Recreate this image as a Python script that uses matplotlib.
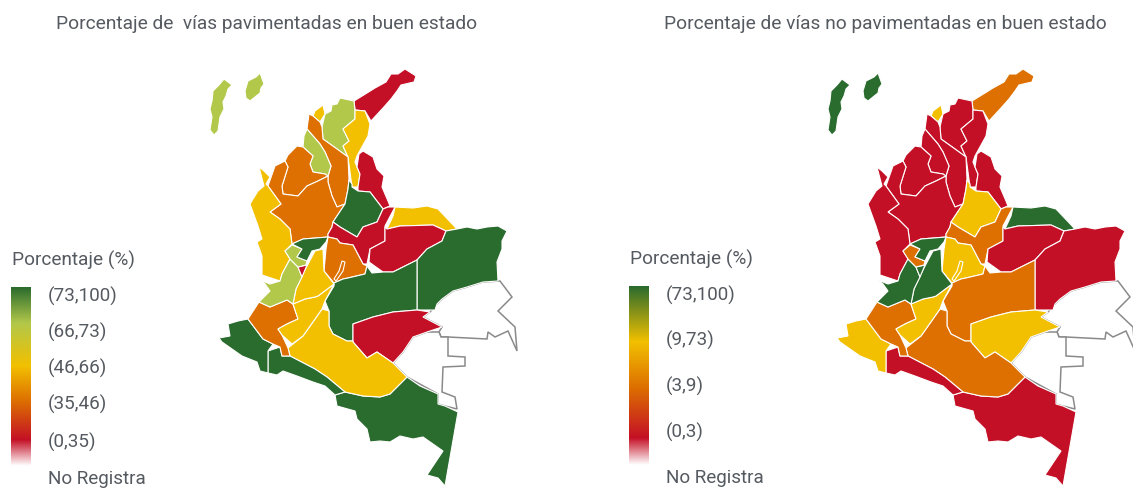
#!/usr/bin/env python3
import numpy as np
import matplotlib
matplotlib.use("Agg")
import matplotlib.pyplot as plt
from matplotlib.colors import LinearSegmentedColormap

plt.rcParams['font.family'] = ['Roboto', 'DejaVu Sans']

# department outlines in image pixels
san_andres = [(224,80),(232,86),(228,90),(226,97),(223,103),(224,110),(220,118),(218,132),(214,136),(210,131),(212,118),(210,110),(212,102),(213,92),(219,86)]
providencia = [(260,74),(264,85),(261,89),(260,94),(250,102),(246,99),(245,92),(248,82),(256,78)]
guajira = [(354,102),(367,94),(375,89),(386,83),(391,75),(398,75),(405,70),(416,77),(414,83),(401,86),(397,92),(391,100),(383,109),(371,122),(365,112),(355,111)]
magdalena = [(340,99),(354,102),(355,111),(355,120),(343,130),(349,142),(343,147),(348,158),(337,150),(323,140),(322,128),(325,115),(331,112),(332,106),(337,105)]
atlantico = [(323,106),(325,115),(320,123),(313,117),(315,112)]
cesar = [(355,111),(365,112),(370,125),(368,137),(357,157),(355,163),(357,168),(360,175),(358,188),(352,188),(348,158),(343,147),(349,142),(343,130),(355,120)]
bolivar = [(309,115),(313,117),(320,123),(322,128),(323,140),(337,150),(348,158),(349,180),(348,190),(345,205),(337,208),(332,197),(328,183),(328,177),(331,167),(325,153),(320,145),(307,130)]
sucre = [(307,130),(320,145),(325,153),(331,167),(328,177),(325,175),(313,173),(310,165),(313,157),(303,148),(304,137)]
cordoba = [(297,147),(303,148),(313,157),(310,165),(313,173),(325,175),(328,177),(318,182),(307,187),(298,197),(283,195),(282,187),(288,168),(285,162),(288,156)]
antioquia = [(268,187),(275,167),(285,162),(288,168),(282,187),(283,195),(298,197),(307,187),(318,182),(328,177),(328,183),(332,197),(337,208),(345,205),(333,223),(332,228),(328,235),(328,238),(303,240),(292,245),(290,230),(280,220),(270,213),(281,205)]
choco = [(259,168),(264,172),(270,178),(266,185),(268,187),(281,205),(270,213),(280,220),(290,230),(292,245),(285,252),(290,260),(282,275),(280,282),(262,276),(262,257),(257,243),(262,240),(258,227),(250,205),(258,192),(264,187)]
norte_santander = [(363,152),(373,158),(377,170),(384,177),(382,188),(388,202),(390,207),(383,210),(370,193),(358,192),(358,188),(360,175),(357,168),(359,155)]
santander = [(349,181),(352,185),(352,188),(358,192),(370,193),(383,210),(377,223),(363,228),(357,238),(340,228),(333,223),(345,205),(348,190)]
boyaca = [(388,208),(395,208),(385,227),(385,242),(370,250),(367,265),(363,265),(353,246),(340,244),(337,240),(328,238),(328,235),(332,228),(333,223),(340,228),(357,238),(363,228),(377,223),(383,210)]
cundinamarca = [(328,238),(337,240),(340,244),(353,246),(363,265),(367,267),(365,275),(348,279),(343,280),(334,284),(324,272),(326,250)]
bogota = [(342,262),(345,263),(343,272),(336,282),(334,280),(339,272)]
arauca = [(395,208),(413,209),(427,207),(438,210),(457,230),(446,232),(433,226),(400,227),(387,230),(393,217)]
casanare = [(387,230),(400,227),(433,226),(446,232),(442,242),(427,250),(417,261),(393,273),(383,273),(369,263),(370,250),(385,242),(385,228)]
vichada = [(446,232),(457,230),(467,228),(477,230),(487,228),(498,227),(507,232),(502,242),(502,250),(497,263),(498,282),(483,283),(467,288),(453,292),(442,300),(437,305),(435,311),(417,311),(417,261),(427,250),(442,242)]
meta = [(367,267),(372,274),(383,273),(393,273),(417,261),(417,311),(393,313),(373,318),(353,325),(353,342),(347,342),(333,335),(329,327),(329,312),(325,302),(334,287),(334,284),(343,280),(348,279),(365,275)]
guaviare = [(353,325),(373,318),(393,313),(417,311),(430,313),(423,318),(442,328),(427,333),(413,338),(403,353),(393,364),(377,353),(367,359),(353,343)]
guainia = [(430,313),(437,305),(442,300),(453,292),(467,288),(483,283),(500,282),(512,298),(498,312),(515,328),(517,352),(508,332),(495,338),(488,333),(487,340),(448,338),(441,338),(439,333),(442,328),(423,318)]
vaupes = [(441,338),(448,338),(448,357),(465,358),(465,367),(443,368),(442,393),(455,398),(457,410),(445,407),(438,405),(438,395),(407,378),(393,364),(403,353),(413,338),(427,333),(439,333)]
amazonas = [(407,378),(420,387),(438,395),(438,405),(445,407),(458,413),(445,487),(438,479),(427,476),(443,452),(433,445),(423,438),(413,440),(400,437),(390,443),(380,442),(370,443),(367,430),(357,420),(355,412),(337,407),(335,396),(345,393),(363,397),(380,398),(390,395)]
caqueta = [(322,310),(329,312),(329,327),(333,335),(347,342),(353,342),(353,343),(367,359),(377,353),(393,364),(407,378),(390,395),(380,398),(363,397),(345,393),(327,378),(315,370),(290,357),(288,349),(303,337),(315,320)]
putumayo = [(268,352),(280,348),(282,357),(290,357),(315,370),(327,378),(345,393),(335,396),(325,387),(313,383),(297,377),(283,372),(277,376),(268,374)]
narino = [(238,322),(248,320),(263,340),(273,345),(268,352),(268,374),(260,372),(257,363),(242,357),(222,343),(219,339),(230,337),(228,325)]
cauca = [(259,303),(270,308),(287,301),(293,305),(298,320),(287,325),(278,330),(282,336),(288,349),(290,357),(282,357),(280,348),(273,345),(263,340),(248,320)]
huila = [(293,305),(305,300),(315,298),(318,297),(334,285),(325,302),(322,310),(315,320),(303,337),(292,345),(282,336),(278,330),(287,325),(298,320)]
tolima = [(315,252),(323,250),(324,272),(334,285),(318,297),(315,298),(305,300),(293,305),(296,290),(303,275),(307,267)]
valle = [(280,282),(282,275),(290,260),(298,268),(302,278),(296,290),(293,305),(287,301),(270,308),(259,303),(270,292),(265,285),(260,281),(270,285)]
quindio = [(298,268),(307,266),(302,278)]
risaralda = [(285,252),(292,246),(302,250),(297,258),(307,262),(306,266),(298,268),(290,260)]
caldas = [(292,245),(303,240),(328,238),(326,243),(320,250),(312,252),(307,262),(297,258),(302,250)]

shapes = [san_andres, providencia, guajira, magdalena, atlantico, cesar, bolivar, sucre, cordoba,
          antioquia, choco, norte_santander, santander, boyaca, cundinamarca, bogota, arauca,
          casanare, vichada, meta, guaviare, guainia, vaupes, amazonas, caqueta, putumayo, narino,
          cauca, huila, tolima, valle, quindio, risaralda, caldas]

# class of each department, same order as shapes
paved_class = ['l','l','r','l','y','y','o','l','o','o','y','r','g','r','o','o','y','r','g','g','r',
               'n','n','g','y','g','g','o','y','y','l','r','l','g']
unpaved_class = ['g','g','o','r','y','r','r','r','r','r','r','r','y','o','y','y','g','r','r','o','y',
                 'n','n','r','o','r','y','o','y','g','g','g','o','g']

class_colors = {'g': '#2a6b2e', 'l': '#b2c84a', 'y': '#f2c000', 'o': '#dd7000', 'r': '#c41026', 'n': 'white'}

title_left = "Porcentaje de  vías pavimentadas en buen estado"
title_right = "Porcentaje de vías no pavimentadas en buen estado"
legend_title = "Porcentaje (%)"
labels_left = ["(73,100)", "(66,73)", "(46,66)", "(35,46)", "(0,35)", "No Registra"]
labels_right = ["(73,100)", "(9,73)", "(3,9)", "(0,3)", "No Registra"]
label_y_left = [296, 332, 368, 404, 442, 479]
label_y_right = [295, 340, 386, 432, 478]

grad_left = [(0.0, '#2a6b2e'), (0.2, '#b2c84a'), (0.44, '#f2c000'), (0.635, '#dd7000'), (0.855, '#c41026'), (1.0, '#ffffff')]
grad_right = [(0.0, '#2a6b2e'), (0.31, '#f2c000'), (0.565, '#dd7000'), (0.85, '#c41026'), (1.0, '#ffffff')]

TEXT = '#555a60'
RIGHT_SHIFT = 618


def draw_map(ax, classes, dx):
    for pts, c in zip(shapes, classes):
        xy = np.array(pts, dtype=float)
        xy[:, 0] += dx
        if c == 'n':
            ax.fill(xy[:, 0], xy[:, 1], facecolor='white', edgecolor='#8a8a8a', linewidth=1.1, zorder=1)
        else:
            ax.fill(xy[:, 0], xy[:, 1], facecolor=class_colors[c], edgecolor='white', linewidth=0.8, zorder=2)


def draw_legend(ax, x0, y0, y1, stops, labels, label_y, title_y):
    cmap = LinearSegmentedColormap.from_list('legend', stops)
    grad = np.linspace(0, 1, 256).reshape(-1, 1)
    ax.imshow(grad, cmap=cmap, extent=(x0, x0 + 20, y1, y0), aspect='auto', zorder=2)
    ax.text(x0 + 1, title_y, legend_title, fontsize=13.7, color=TEXT, va='center', ha='left')
    for lab, y in zip(labels, label_y):
        ax.text(x0 + 37, y, lab, fontsize=13.6, color=TEXT, va='center', ha='left')


fig = plt.figure(figsize=(11.33, 4.89), dpi=100)
ax = fig.add_axes([0, 0, 1, 1])

draw_map(ax, paved_class, 0)
draw_map(ax, unpaved_class, RIGHT_SHIFT)

draw_legend(ax, 11, 288, 467, grad_left, labels_left, label_y_left, 260)
draw_legend(ax, 629, 287, 466, grad_right, labels_right, label_y_right, 259)

ax.text(266.5, 24, title_left, fontsize=13.75, color=TEXT, ha='center', va='center')
ax.text(885.5, 24, title_right, fontsize=13.8, color=TEXT, ha='center', va='center')

ax.set_xlim(0, 1133)
ax.set_ylim(489, 0)
ax.axis('off')

fig.savefig("out.png", dpi=100)
